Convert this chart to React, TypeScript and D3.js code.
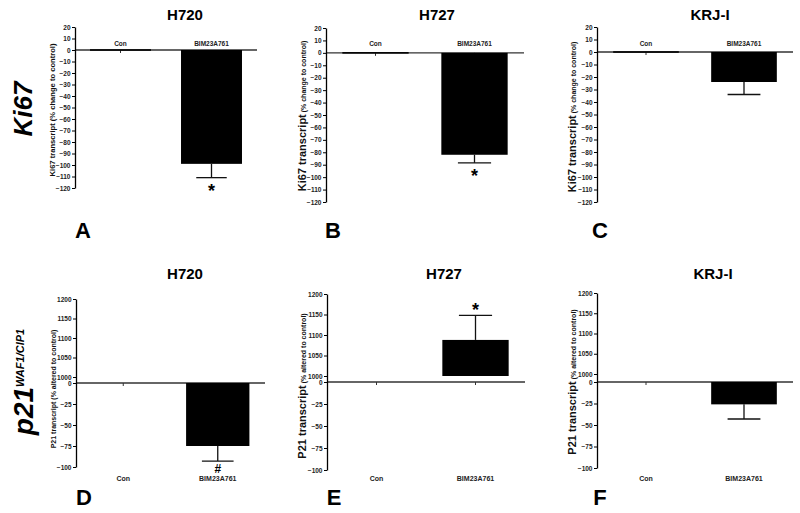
import React, { useEffect, useRef } from 'react';
import * as d3 from 'd3';

// values
const cellLines = ["H720", "H727", "KRJ-I"];
const groups = ["Con", "BIM23A761"];
const ki67Mean = [[0, -99], [0, -82], [0, -24]];
const ki67Sem = [[0, 12], [0, 6.5], [0, 10]];
const p21Mean = [[0, -75], [0, 1088], [0, -26]];
const p21Sem = [[0, 18], [0, 60], [0, 17]];
const ki67Marks = ["*", "*", ""];
const p21Marks = ["#", "*", ""];
const ki67Ticks = [20, 10, 0, -10, -20, -30, -40, -50, -60, -70, -80, -90, -100, -110, -120];
const p21Ticks = [1200, 1150, 1100, 1050, 1000, 0, -25, -50, -75, -100];
const letters = ["A", "B", "C", "D", "E", "F"];

const FONT = "'Liberation Sans', Arial, Helvetica, sans-serif";

// panel placement in the 800x513 frame
const topLayout = [
  { x0: 75, x1: 257, yr: [27, 188], lx: 55, ly: 110, big: false, small: 7.6, tx: 185, lt: 83 },
  { x0: 326, x1: 524, yr: [28, 202], lx: 306, ly: 116, big: true, small: 7, tx: 437, lt: 333 },
  { x0: 597, x1: 793, yr: [27, 202], lx: 576, ly: 117, big: true, small: 7, tx: 710, lt: 600 },
];
const bottomLayout = [
  { x0: 76, x1: 265, yr: [299, 377, 383, 467], lx: 56, ly: 389, big: false, small: 7, tx: 185, lt: 84 },
  { x0: 327, x1: 525, yr: [294, 376, 382, 470], lx: 306, ly: 386, big: true, small: 7, tx: 444, lt: 334 },
  { x0: 597, x1: 793, yr: [293, 374, 382, 468], lx: 576, ly: 382, big: true, small: 7, tx: 713, lt: 600 },
];

function drawPanel(svg, o) {
  const g = svg.append("g");
  const x = d3.scalePoint().domain(groups).range([o.x0, o.x1]).padding(0.5);
  const bw = x.step() * 0.67;
  const y = o.y;
  const y0 = y(0);

  // x axis (zero line) with category ticks
  g.append("line")
    .attr("x1", o.x0).attr("x2", o.x1)
    .attr("y1", y0).attr("y2", y0)
    .attr("stroke", "#333").attr("stroke-width", 1.4);
  g.selectAll(".xt").data(groups).join("line")
    .attr("x1", d => x(d)).attr("x2", d => x(d))
    .attr("y1", y0).attr("y2", y0 + 3)
    .attr("stroke", "#333").attr("stroke-width", 1);

  // bars
  groups.forEach((grp, i) => {
    const v = o.mean[i];
    const base = o.broken && v > 1000 ? 1000 : 0;
    const ya = y(v), yb = y(base);
    let h = Math.abs(ya - yb);
    if (!o.broken && v === 0) h = 1.6;
    g.append("rect")
      .attr("x", x(grp) - bw / 2).attr("width", bw)
      .attr("y", v === 0 ? y0 - h / 2 : Math.min(ya, yb)).attr("height", h)
      .attr("fill", "#000");
    const s = o.sem[i];
    if (s > 0) {
      const end = v < 0 ? v - s : v + s;
      g.append("line")
        .attr("x1", x(grp)).attr("x2", x(grp))
        .attr("y1", ya).attr("y2", y(end))
        .attr("stroke", "#111").attr("stroke-width", 1.3);
      g.append("line")
        .attr("x1", x(grp) - bw / 4).attr("x2", x(grp) + bw / 4)
        .attr("y1", y(end)).attr("y2", y(end))
        .attr("stroke", "#111").attr("stroke-width", 1.3);
      const m = o.marks[i];
      if (m) {
        const star = m === "*";
        g.append("text")
          .attr("x", x(grp))
          .attr("y", v < 0 ? y(end) + (star ? 19 : 12) : y(end) + 1)
          .attr("text-anchor", "middle")
          .attr("font-size", star ? 18 : 12)
          .attr("font-weight", "bold")
          .text(m);
      }
    }
  });

  // y axis
  const ax = g.append("g")
    .attr("transform", `translate(${o.x0},0)`)
    .call(d3.axisLeft(y).tickValues(o.ticks).tickSize(3).tickSizeOuter(0).tickPadding(1.5).tickFormat(d3.format("d")));
  ax.select(".domain").attr("stroke", "#000").attr("stroke-width", 1.3);
  ax.selectAll(".tick line").attr("stroke", "#000").attr("stroke-width", 1);
  ax.selectAll(".tick text")
    .attr("font-family", FONT).attr("font-size", 6.5).attr("font-weight", "bold").attr("fill", "#222");

  // category labels
  g.selectAll(".cl").data(groups).join("text")
    .attr("x", d => x(d)).attr("y", o.catY)
    .attr("text-anchor", "middle")
    .attr("font-size", o.catSize).attr("font-weight", "bold").attr("fill", "#222")
    .text(d => d);

  // y label
  const yl = g.append("text")
    .attr("transform", `translate(${o.lx},${o.ly}) rotate(-90)`)
    .attr("text-anchor", "middle").attr("font-weight", "bold").attr("fill", "#111");
  yl.append("tspan").attr("font-size", o.big ? 11 : o.small).text(o.label[0]);
  yl.append("tspan").attr("font-size", o.small).text(" " + o.label[1]);

  // title and panel letter
  g.append("text").attr("x", o.tx).attr("y", o.titleY)
    .attr("text-anchor", "middle").attr("font-size", 15).attr("font-weight", "bold")
    .text(o.title);
  g.append("text").attr("x", o.lt).attr("y", o.letterY)
    .attr("text-anchor", "middle").attr("font-size", 22).attr("font-weight", "bold")
    .text(o.letter);
}

export default function App() {
  const ref = useRef(null);

  useEffect(() => {
    const svg = d3.select(ref.current);
    svg.selectAll("*").remove();
    svg.attr("font-family", FONT);

    topLayout.forEach((L, i) => {
      drawPanel(svg, {
        x0: L.x0, x1: L.x1,
        y: d3.scaleLinear().domain([20, -120]).range(L.yr),
        broken: false,
        ticks: ki67Ticks, mean: ki67Mean[i], sem: ki67Sem[i], marks: [" ", ki67Marks[i]],
        label: ["Ki67 transcript", "(% change to control)"],
        lx: L.lx, ly: L.ly, big: L.big, small: L.small,
        catY: 46, catSize: 6.5,
        title: cellLines[i], tx: L.tx, titleY: 20,
        letter: letters[i], lt: L.lt, letterY: 238,
      });
    });

    bottomLayout.forEach((L, i) => {
      drawPanel(svg, {
        x0: L.x0, x1: L.x1,
        y: d3.scaleLinear().domain([1200, 1000, 0, -100]).range(L.yr),
        broken: true,
        ticks: p21Ticks, mean: p21Mean[i], sem: p21Sem[i], marks: [" ", p21Marks[i]],
        label: ["P21 transcript", "(% altered to control)"],
        lx: L.lx, ly: L.ly, big: L.big, small: L.small,
        catY: 481, catSize: 7,
        title: cellLines[i], tx: L.tx, titleY: 279,
        letter: letters[i + 3], lt: L.lt, letterY: 505,
      });
    });

    // row labels
    svg.append("text")
      .attr("transform", "translate(32,109) rotate(-90)")
      .attr("text-anchor", "middle").attr("font-size", 26)
      .attr("font-weight", "bold").attr("font-style", "italic")
      .text("Ki67");
    const p = svg.append("text")
      .attr("transform", "translate(33,382) rotate(-90)")
      .attr("text-anchor", "middle")
      .attr("font-weight", "bold").attr("font-style", "italic");
    p.append("tspan").attr("font-size", 28).text("p21");
    p.append("tspan").attr("font-size", 11).attr("dy", -9).text("WAF1/CIP1");
  }, []);

  return (
    <svg ref={ref} width={800} height={513}
      style={{ position: "absolute", left: 0, top: 0, background: "#fff" }} />
  );
}
